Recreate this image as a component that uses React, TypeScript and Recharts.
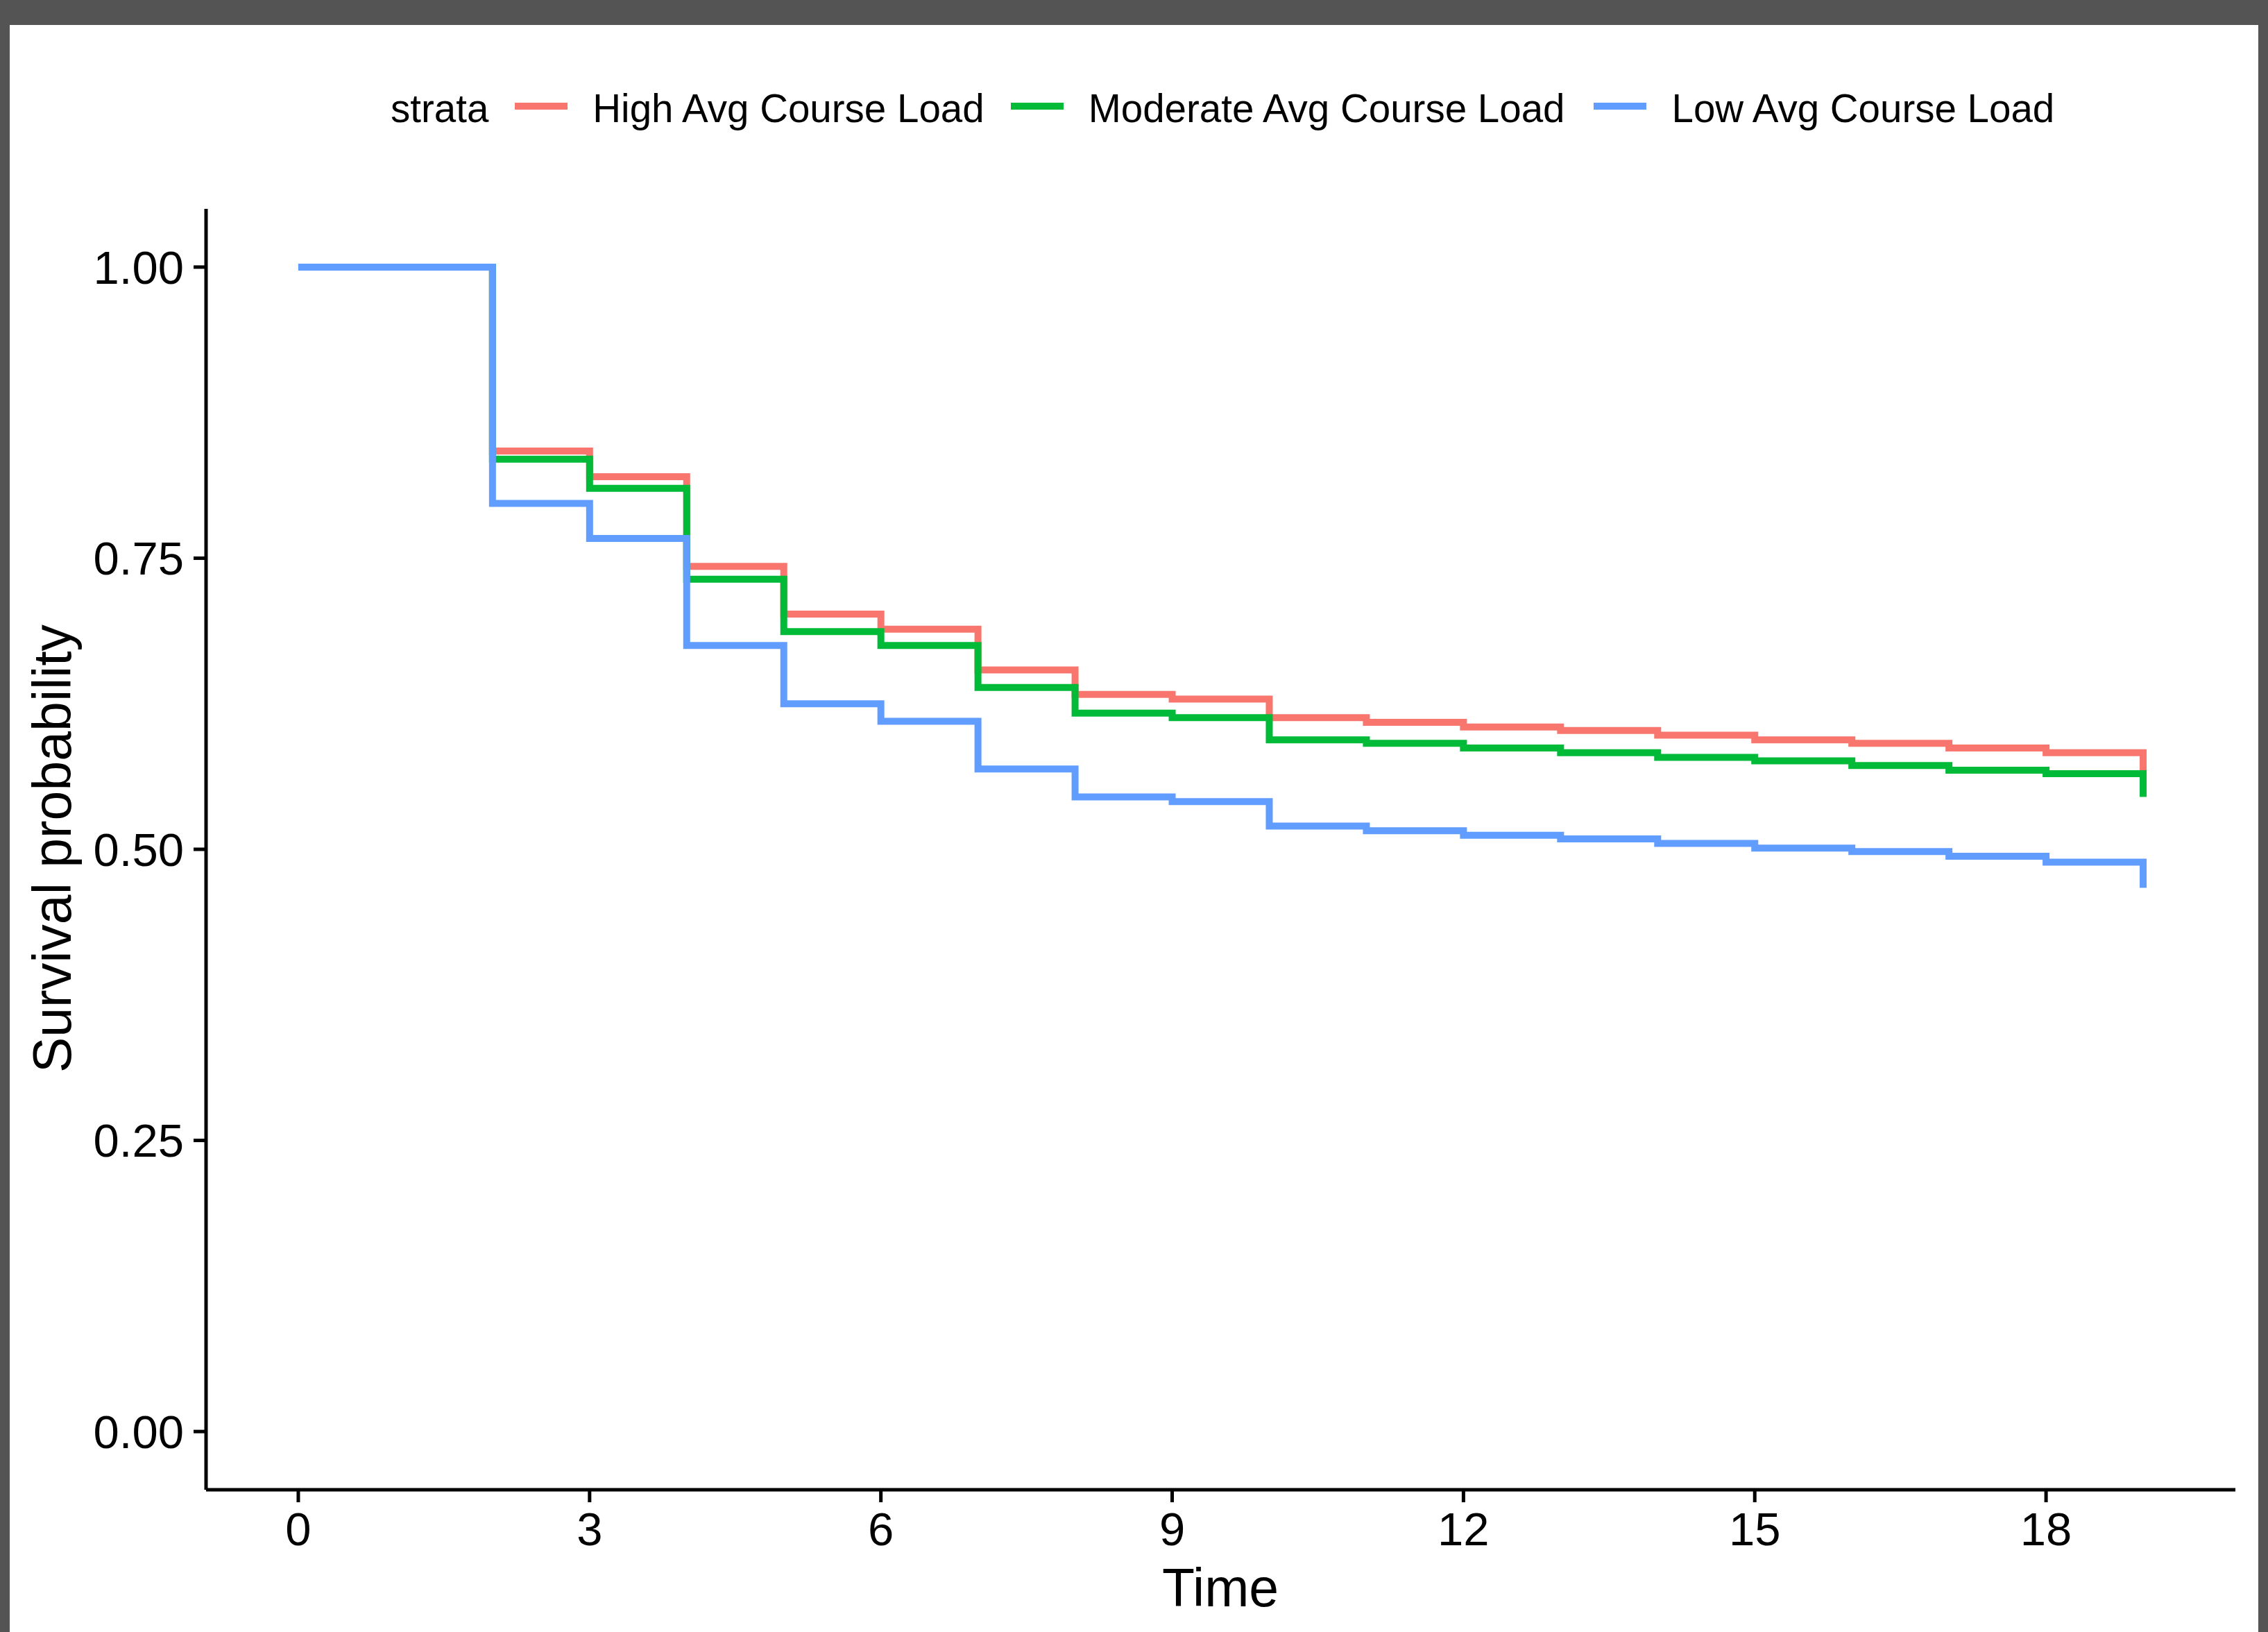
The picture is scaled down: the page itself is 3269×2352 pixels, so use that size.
import { LineChart, Line, XAxis, YAxis, Legend, Label } from 'recharts';

const TIME = [0, 1, 2, 3, 4, 5, 6, 7, 8, 9, 10, 11, 12, 13, 14, 15, 16, 17, 18, 19];
const HIGH = [1, 1, 0.842, 0.82, 0.743, 0.702, 0.689, 0.654, 0.633, 0.629, 0.613, 0.609, 0.605, 0.602, 0.598, 0.594, 0.591, 0.587, 0.583, 0.566];
const MODERATE = [1, 1, 0.835, 0.81, 0.732, 0.687, 0.675, 0.639, 0.617, 0.613, 0.594, 0.591, 0.587, 0.583, 0.579, 0.576, 0.572, 0.568, 0.565, 0.545];
const LOW = [1, 1, 0.797, 0.767, 0.675, 0.625, 0.61, 0.569, 0.545, 0.541, 0.52, 0.516, 0.512, 0.509, 0.505, 0.501, 0.498, 0.494, 0.489, 0.467];

const X_TICKS = [0, 3, 6, 9, 12, 15, 18];
const Y_TICKS = [0, 0.25, 0.5, 0.75, 1];

const SERIES = [
  { key: 'high', name: 'High Avg Course Load', color: '#F8766D' },
  { key: 'moderate', name: 'Moderate Avg Course Load', color: '#00BA38' },
  { key: 'low', name: 'Low Avg Course Load', color: '#619CFF' },
];

const data = TIME.map((t, i) => ({
  time: t,
  high: HIGH[i],
  moderate: MODERATE[i],
  low: LOW[i],
}));

const FONT = '"Liberation Sans", Arial, Helvetica, sans-serif';
const W = 3269;
const H = 2352;

const LegendBox = () => (
  <div
    style={{
      display: 'flex',
      alignItems: 'center',
      height: 120,
      paddingLeft: 563,
      fontFamily: FONT,
      fontSize: 56.5,
      color: '#000',
      whiteSpace: 'nowrap',
    }}
  >
    <span>strata</span>
    {SERIES.map((s, i) => (
      <div key={s.key} style={{ display: 'flex', alignItems: 'center' }}>
        <div
          style={{
            width: 76,
            height: 10,
            background: s.color,
            marginLeft: i === 0 ? 38 : i === 2 ? 42 : 38,
            marginBottom: 6,
          }}
        />
        <span style={{ marginLeft: 36 }}>{s.name}</span>
      </div>
    ))}
  </div>
);

const App = () => {
  return (
    <div style={{ position: 'absolute', left: 0, top: 0, width: W, height: H, background: '#545454' }}>
      <div style={{ position: 'absolute', left: 14, top: 36, width: 3255 - 14, height: H - 36, background: '#fff' }} />
      <div style={{ position: 'absolute', left: 0, top: 0 }}>
        <LineChart
          width={W}
          height={H}
          data={data}
          margin={{ top: 181, right: 47, bottom: 0, left: 0 }}
          style={{ fontFamily: FONT }}
        >
          <Legend
            verticalAlign="top"
            content={() => <LegendBox />}
            wrapperStyle={{ top: 96, left: 0, width: W }}
          />
          <XAxis
            dataKey="time"
            type="number"
            domain={[-0.95, 19.95]}
            ticks={X_TICKS}
            allowDataOverflow
            height={205}
            stroke="#000"
            strokeWidth={5}
            tickSize={18}
            tickMargin={14}
            tick={{ fontSize: 67, fill: '#000' }}
          >
            <Label
              content={() => (
                <text x={1759} y={2315} textAnchor="middle" fontSize={77} fill="#000" fontFamily={FONT}>
                  Time
                </text>
              )}
            />
          </XAxis>
          <YAxis
            type="number"
            domain={[-0.05, 1.05]}
            ticks={Y_TICKS}
            allowDataOverflow
            width={297}
            stroke="#000"
            strokeWidth={5}
            tickSize={18}
            tickMargin={14}
            tickFormatter={(v: number) => v.toFixed(2)}
            tick={{ fontSize: 67, fill: '#000' }}
          >
            <Label
              content={() => (
                <text
                  x={102}
                  y={1223}
                  transform="rotate(-90 102 1223)"
                  textAnchor="middle"
                  fontSize={77}
                  fill="#000"
                  fontFamily={FONT}
                >
                  Survival probability
                </text>
              )}
            />
          </YAxis>
          {SERIES.map((s) => (
            <Line
              key={s.key}
              type="stepAfter"
              dataKey={s.key}
              name={s.name}
              stroke={s.color}
              strokeWidth={10}
              dot={false}
              activeDot={false}
              isAnimationActive={false}
            />
          ))}
        </LineChart>
      </div>
    </div>
  );
};

export default App;
